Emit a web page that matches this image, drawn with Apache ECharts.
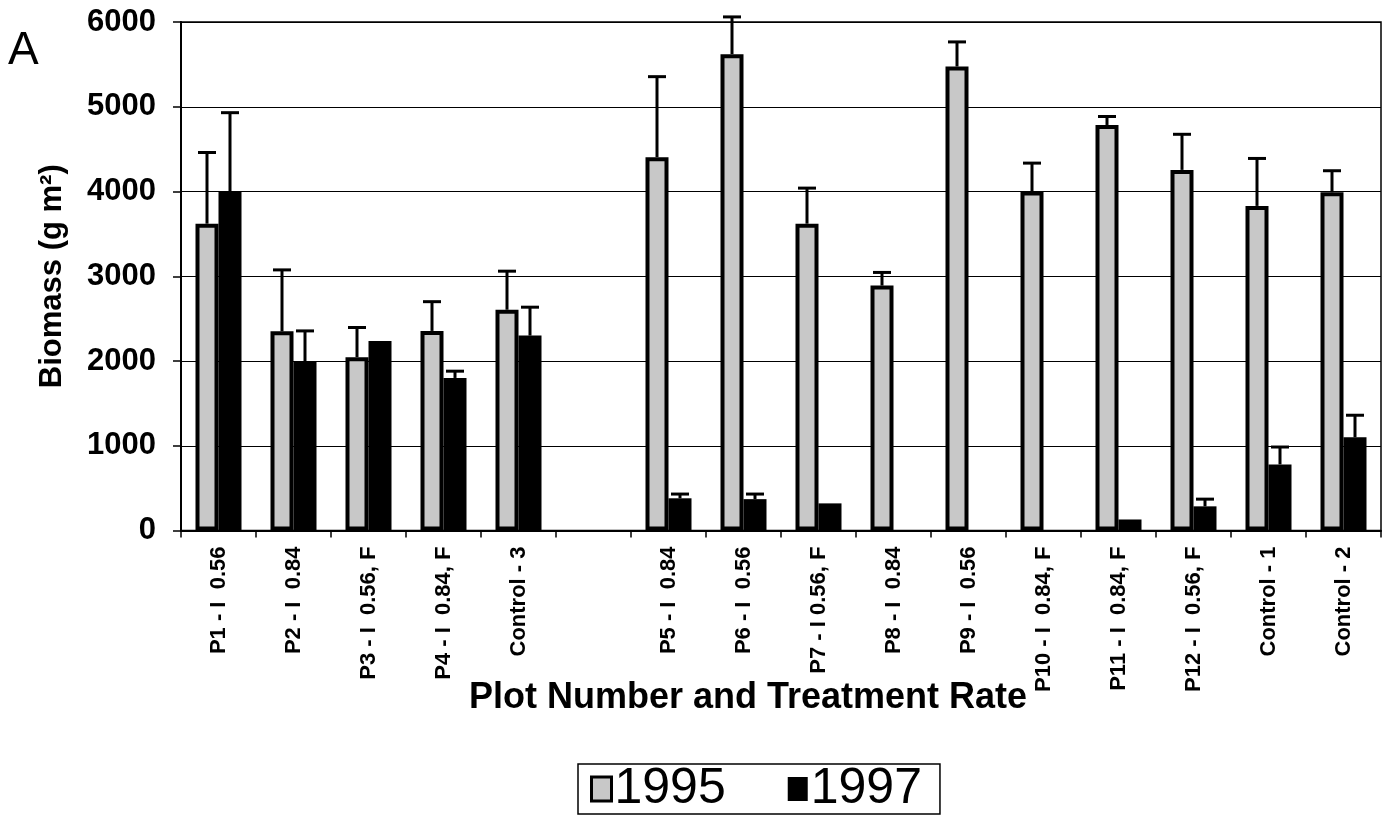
<!DOCTYPE html>
<html>
<head>
<meta charset="utf-8">
<script src="https://cdn.jsdelivr.net/npm/echarts@6/dist/echarts.min.js"></script>
<style>
html,body{margin:0;padding:0;background:#fff;}
#chart{width:1390px;height:815px;}
</style>
</head>
<body>
<div id="chart"></div>
<script>
const categories = ['P1 - I  0.56','P2 - I  0.84','P3 - I  0.56, F','P4 - I  0.84, F','Control - 3','',
  'P5 - I  0.84','P6 - I  0.56','P7 - I 0.56, F','P8 - I  0.84','P9 - I  0.56','P10 - I  0.84, F',
  'P11 - I  0.84, F','P12 - I  0.56, F','Control - 1','Control - 2'];
const yTicks = [0, 1000, 2000, 3000, 4000, 5000, 6000];
const biomass1995 = [3620, 2350, 2045, 2355, 2605, null, 4405, 5620, 3620, 2890, 5475, 4000, 4785, 4255, 3830, 3990];
const err1995     = [840, 725, 350, 345, 455, null, 950, 440, 420, 155, 290, 335, 100, 420, 560, 255];
const biomass1997 = [4000, 1995, 2235, 1800, 2300, null, 380, 370, 320, 0, 0, 0, 130, 285, 780, 1100];
const err1997     = [930, 360, 0, 80, 335, null, 50, 60, 0, 0, 0, 0, 0, 85, 205, 260];
const seriesNames = ['1995', '1997'];

const BAR_W = 23;
function errData(vals, errs) {
  return vals.map((v, i) => (v === null || !errs[i]) ? [i, '-', '-'] : [i, v, errs[i]]);
}
function errRender(offset) {
  return function (params, api) {
    const v = api.value(1), e = api.value(2);
    if (isNaN(v) || isNaN(e)) return null;
    const i = api.value(0);
    const p0 = api.coord([i, v]);
    const p1 = api.coord([i, v + e]);
    const x = p0[0] + offset;
    const style = { stroke: '#000', lineWidth: 3 };
    return {
      type: 'group',
      children: [
        { type: 'line', shape: { x1: x, y1: p0[1], x2: x, y2: p1[1] }, style: style },
        { type: 'line', shape: { x1: x - 9, y1: p1[1], x2: x + 9, y2: p1[1] }, style: style }
      ]
    };
  };
}

const chart = echarts.init(document.getElementById('chart'), null, { renderer: 'canvas' });
chart.setOption({
  animation: false,
  backgroundColor: '#fff',
  textStyle: { fontFamily: 'Liberation Sans' },
  grid: { left: 181, right: 9, top: 22, bottom: 284.5, show: true, borderColor: '#000', borderWidth: 1.5, backgroundColor: 'transparent' },
  legend: {
    left: 578, top: 764,
    data: [
      { name: seriesNames[0], itemStyle: { color: '#c8c8c8', borderColor: '#000', borderWidth: 3 } },
      { name: seriesNames[1] }
    ],
    icon: 'rect',
    itemWidth: 20, itemHeight: 24, itemGap: 62,
    borderColor: '#000', borderWidth: 1.5,
    padding: [0, 18, 0, 12],
    textStyle: { fontFamily: 'Liberation Sans', fontSize: 50, color: '#000', padding: [2, 0, 0, -2] }
  },
  graphic: [
    { type: 'text', x: 8, y: 51, style: { text: 'A', font: '46px "Liberation Sans"', fill: '#000', textVerticalAlign: 'middle' } },
    { type: 'text', x: 748, y: 698, style: { text: 'Plot Number and Treatment Rate', font: 'bold 36px "Liberation Sans"', fill: '#000', textAlign: 'center', textVerticalAlign: 'middle' } }
  ],
  xAxis: {
    type: 'category',
    data: categories,
    boundaryGap: true,
    axisLine: { lineStyle: { color: '#000', width: 2 } },
    axisTick: { show: true, length: 7, lineStyle: { color: '#000', width: 1.5 } },
    axisLabel: { rotate: 90, interval: 0, margin: 16, color: '#000', fontWeight: 'bold', fontSize: 22, fontFamily: 'Liberation Sans' }
  },
  yAxis: {
    type: 'value',
    min: yTicks[0], max: yTicks[yTicks.length - 1], interval: 1000,
    name: 'Biomass (g m²)',
    nameLocation: 'middle', nameRotate: 90, nameGap: 113,
    nameTextStyle: { color: '#000', fontWeight: 'bold', fontSize: 31, fontFamily: 'Liberation Sans' },
    axisLine: { show: true, lineStyle: { color: '#000', width: 2 } },
    axisTick: { show: true, length: 8, lineStyle: { color: '#000', width: 1.5 } },
    axisLabel: { margin: 25, color: '#000', fontWeight: 'bold', fontSize: 31, fontFamily: 'Liberation Sans', formatter: v => String(v) },
    splitLine: { show: true, lineStyle: { color: '#000', width: 1.2 } }
  },
  series: [
    {
      name: seriesNames[0], type: 'bar', data: biomass1995, barWidth: BAR_W, barGap: '0%',
      itemStyle: { color: '#c8c8c8', borderColor: '#000', borderWidth: 4 }
    },
    {
      name: seriesNames[1], type: 'bar', data: biomass1997, barWidth: BAR_W, barGap: '0%',
      itemStyle: { color: '#000', borderColor: '#000', borderWidth: 0 }
    },
    {
      type: 'custom', renderItem: errRender(-BAR_W / 2), data: errData(biomass1995, err1995),
      encode: { x: 0, y: 1 }, z: 5, clip: false, silent: true
    },
    {
      type: 'custom', renderItem: errRender(BAR_W / 2), data: errData(biomass1997, err1997),
      encode: { x: 0, y: 1 }, z: 5, clip: false, silent: true
    }
  ]
});
</script>
</body>
</html>
